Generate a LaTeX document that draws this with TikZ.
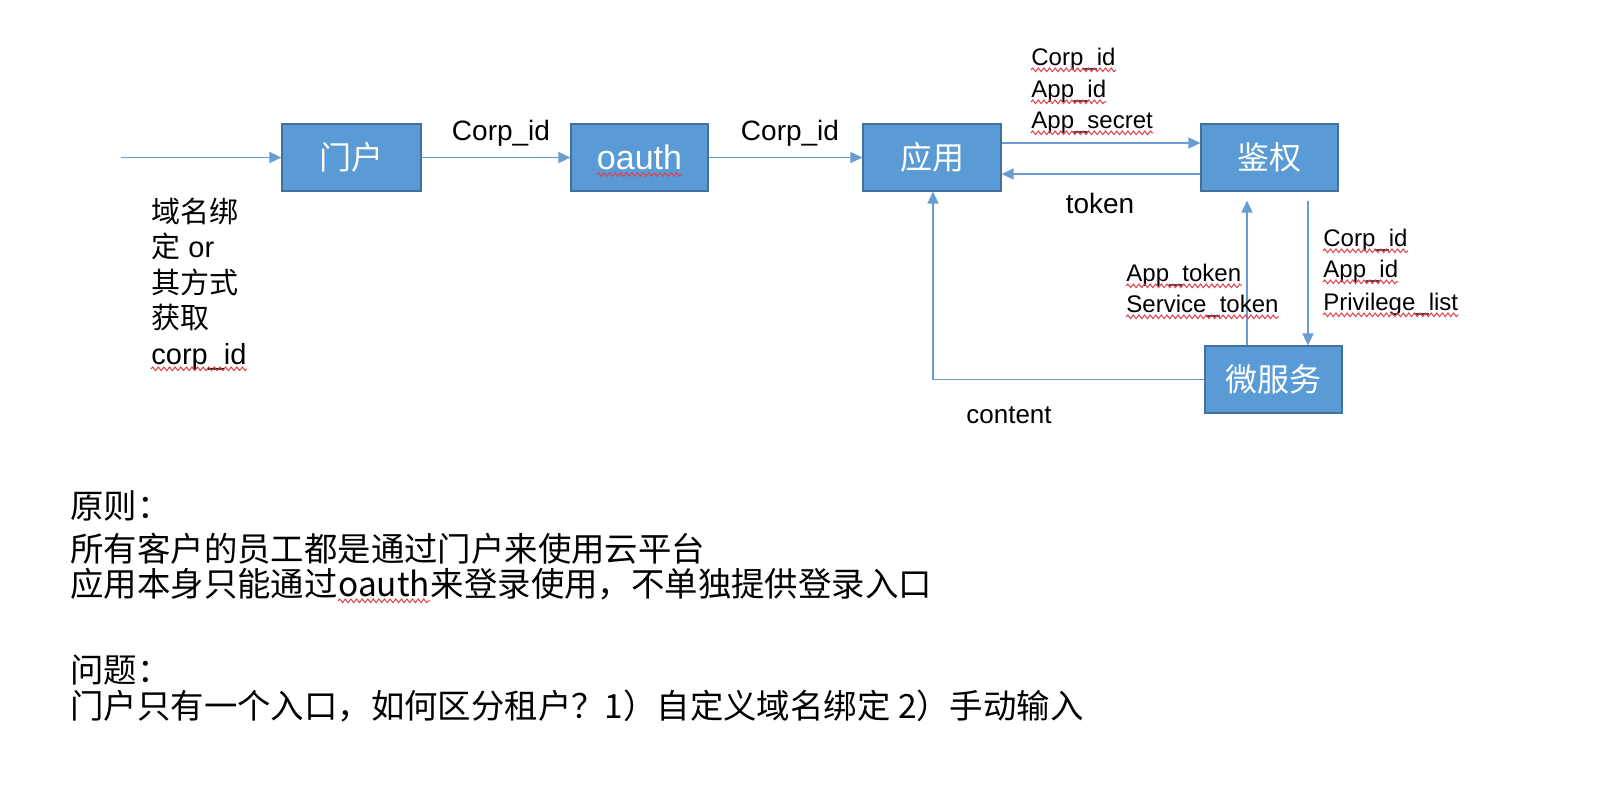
\documentclass[tikz,border=0pt]{standalone}
\usepackage{fontspec}
\setmainfont{Liberation Sans}
\newfontfamily\cjk{Noto Sans CJK SC}
\usetikzlibrary{arrows.meta,decorations.pathmorphing}
\definecolor{boxfill}{HTML}{5B9BD5}
\definecolor{boxline}{HTML}{41719C}
\definecolor{arrowc}{HTML}{6A9CD2}
\definecolor{squig}{HTML}{E0404A}
\newcommand\spellmark[1]{\draw[spell] ([yshift=-2.4pt]#1.base west) -- ([yshift=-2.4pt]#1.base east);}
\begin{document}
\begin{tikzpicture}[x=0.5pt,y=-0.5pt,
  blk/.style={draw=boxline, line width=0.6pt, fill=boxfill, minimum height=33.5pt, inner sep=0pt},
  btxt/.style={inner sep=0pt, text=white, font=\cjk\fontsize{16}{19}\selectfont},
  arr/.style={draw=arrowc, line width=0.8pt, -{Triangle[length=6pt,width=5.5pt]}},
  lbl/.style={inner sep=0pt, anchor=base, font=\fontsize{14}{16}\selectfont},
  sml/.style={inner sep=0pt, anchor=base west, font=\fontsize{12}{14}\selectfont},
  lft/.style={inner sep=0pt, anchor=base west, font=\fontsize{14.5}{17}\selectfont},
  bt/.style={inner sep=0pt, anchor=base west, font=\cjk\fontsize{16.7}{20}\selectfont},
  spell/.style={draw=squig, line width=0.5pt, decorate, decoration={snake, amplitude=0.9pt, segment length=2.8pt}}
]
\fill[white] (0,0) rectangle (1600,794);
\useasboundingbox (0,0) rectangle (1600,794);

% boxes
\node[blk, minimum width=69.5pt] (portal) at (351.5,157.5) {};
\node[btxt] (portalT) at (portal) {门户};
\node[blk, minimum width=68.5pt] (oauth) at (639.5,157.5) {};
\node[btxt, font=\fontsize{17}{20}\selectfont] (oauthT) at (oauth) {oauth};
\node[blk, minimum width=69pt] (app) at (932,157.5) {};
\node[btxt] (appT) at (app) {应用};
\node[blk, minimum width=68.5pt] (auth) at (1269.5,157.5) {};
\node[btxt] (authT) at (auth) {鉴权};
\node[blk, minimum width=68.5pt] (micro) at (1273.5,379.5) {};
\node[btxt] (microT) at (micro) {微服务};

% connectors
\coordinate (start) at (121,157.5);
\coordinate (yU) at (0,143);
\coordinate (yD) at (0,174);
\coordinate (xU) at (1247,0);
\coordinate (xD) at (1308,0);
\coordinate (xC) at (933,0);
\draw[arr] (start) -- (portal.west);
\draw[arr] (portal) -- (oauth);
\draw[arr] (oauth) -- (app);
\draw[arr] (app.east |- yU) -- (auth.west |- yU);
\draw[arr] (auth.west |- yD) -- (app.east |- yD);
\draw[arr, shorten >=4.5pt] (micro.north -| xU) -- (auth.south -| xU);
\draw[arr, shorten <=4.5pt] (auth.south -| xD) -- (micro.north -| xD);
\draw[arr] (micro.west) -| (xC |- app.south);

% labels
\node[lbl] (c1) at (501,140) {Corp\_id};
\node[lbl] (c2) at (790,140) {Corp\_id};
\node[sml] (t1) at (1031,65) {Corp\_id};
\node[sml] (t2) at (1031,97) {App\_id};
\node[sml] (t3) at (1031,128) {App\_secret};
\node[lbl] (tok) at (1100,213) {token};
\node[sml] (s1) at (1126,281) {App\_token};
\node[sml] (s2) at (1126,312) {Service\_token};
\node[sml] (p1) at (1323,246) {Corp\_id};
\node[sml] (p2) at (1323,277) {App\_id};
\node[sml] (p3) at (1323,310) {Privilege\_list};
\node[lbl, font=\fontsize{13}{15}\selectfont] (cont) at (1009,423) {content};

% left text
\node[lft] (l1) at (151,222) {\cjk 域名绑};
\node[lft] (l2) at (151,257) {{\cjk 定} or};
\node[lft] (l3) at (151,293) {\cjk 其方式};
\node[lft] (l4) at (151,328) {\cjk 获取};
\node[lft] (l5) at (151,364) {corp\_id};

% bottom text
\node[bt] (b1) at (70,518) {原则：};
\node[bt] (b2) at (70,561) {所有客户的员工都是通过门户来使用云平台};
\node[bt] (b3a) at (70,596) {应用本身只能通过};
\node[bt] (b3b) at (b3a.base east) {oauth};
\node[bt] (b3c) at (b3b.base east) {来登录使用，不单独提供登录入口};
\node[bt] (b4) at (70,682) {问题：};
\node[bt] (b5) at (70,718) {门户只有一个入口，如何区分租户？1）自定义域名绑定 2）手动输入};

% spell-check marks
\spellmark{oauthT}
\spellmark{t1}
\spellmark{t2}
\spellmark{t3}
\spellmark{s1}
\spellmark{s2}
\spellmark{p1}
\spellmark{p2}
\spellmark{p3}
\spellmark{l5}
\spellmark{b3b}
\end{tikzpicture}
\end{document}
